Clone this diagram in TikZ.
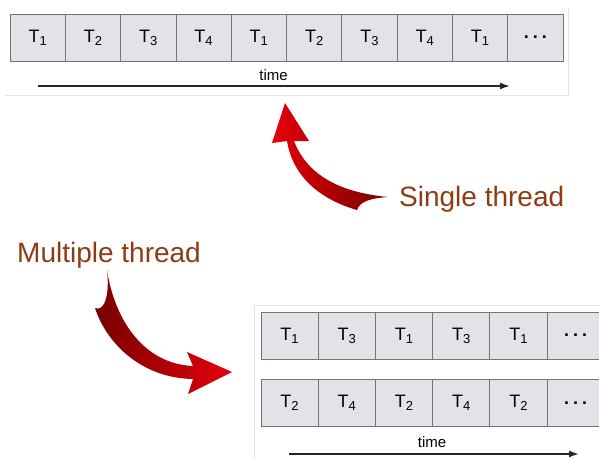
\documentclass[tikz,border=0pt]{standalone}
\usepackage{fontspec}
\setmainfont{Liberation Sans}
\usepackage{xcolor}
\definecolor{cellgray}{RGB}{226, 227, 232}
\definecolor{edgegray}{RGB}{115, 115, 115}
\definecolor{framegray}{RGB}{228, 228, 228}
\definecolor{labelbrown}{RGB}{140, 60, 20}
\definecolor{arrowred}{RGB}{230, 0, 12}
\definecolor{arrowdark}{RGB}{118, 0, 0}
\usepackage{tikz}
\usetikzlibrary{arrows.meta, positioning}

\newcommand{\tsub}[1]{T\raisebox{-3pt}{\fontsize{13}{15}\selectfont #1}}

\begin{document}
\begin{tikzpicture}[x=1pt, y=-1pt, node distance=0pt,
        cell/.style={rectangle, draw=edgegray, fill=cellgray, line width=0.8pt, minimum width=55.3pt, minimum height=47pt, inner sep=0pt, outer sep=0pt, font=\fontsize{18}{20}\selectfont},
        widecell/.style={cell, minimum width=57.2pt},
        timelabel/.style={font=\fontsize{15}{17}\selectfont, inner sep=0pt, anchor=base},
        threadlabel/.style={font=\fontsize{28}{32}\selectfont, text=labelbrown, inner sep=0pt, anchor=base west},
        frame/.style={draw=framegray, line width=0.8pt},
        bigarrow/.style={draw=none},
        line/.style={draw=black!85, -{Latex[length=10pt, width=7pt]}, line width=1.6pt}]

        \useasboundingbox (0,0) rectangle (599,459);
        \clip (0,0) rectangle (599,459);

        % screenshot edges
        \draw [frame] (5,95) -- (568,95) -- (568,8);
        \draw [frame] (254,459) -- (254,305) -- (599,305);

        % single thread row
        \node [cell] (s1) at (37.65,37.5) {\tsub{1}};
        \node [cell, right=of s1] (s2) {\tsub{2}};
        \node [cell, right=of s2] (s3) {\tsub{3}};
        \node [cell, right=of s3] (s4) {\tsub{4}};
        \node [cell, right=of s4] (s5) {\tsub{1}};
        \node [cell, right=of s5] (s6) {\tsub{2}};
        \node [cell, right=of s6] (s7) {\tsub{3}};
        \node [cell, right=of s7] (s8) {\tsub{4}};
        \node [cell, right=of s8] (s9) {\tsub{1}};
        \node [cell, right=of s9] (s10) {\textbf{.\hspace{4pt}.\hspace{4pt}.}};

        \node [timelabel] (stime) at (273.5,80.5) {time};
        \coordinate (sstart) at (38,86);
        \coordinate (send) at (510,86);
        \path [line] (sstart) -- (send);

        % multiple thread rows
        \node [widecell] (a1) at (289.6,335.5) {\tsub{1}};
        \node [widecell, right=of a1] (a2) {\tsub{3}};
        \node [widecell, right=of a2] (a3) {\tsub{1}};
        \node [widecell, right=of a3] (a4) {\tsub{3}};
        \node [widecell, right=of a4] (a5) {\tsub{1}};
        \node [widecell, right=of a5] (a6) {\textbf{.\hspace{4pt}.\hspace{4pt}.}};

        \node [widecell] (b1) at (289.6,403) {\tsub{2}};
        \node [widecell, right=of b1] (b2) {\tsub{4}};
        \node [widecell, right=of b2] (b3) {\tsub{2}};
        \node [widecell, right=of b3] (b4) {\tsub{4}};
        \node [widecell, right=of b4] (b5) {\tsub{2}};
        \node [widecell, right=of b5] (b6) {\textbf{.\hspace{4pt}.\hspace{4pt}.}};

        \node [timelabel] (mtime) at (432,447) {time};
        \coordinate (mstart) at (289,454);
        \coordinate (mend) at (579,454);
        \path [line] (mstart) -- (mend);

        % labels
        \node [threadlabel] (single) at (399,206.5) {Single thread};
        \node [threadlabel] (multi) at (17,262) {Multiple thread};

        % curved arrows
        \shade [bigarrow, left color=arrowred, right color=arrowdark]
            (285,103) -- (309,141) -- (294,141)
            .. controls (306,172) and (335,192) .. (388,197)
            .. controls (372,198) and (360,201) .. (357,210)
            .. controls (322,200) and (293,178) .. (287,141)
            -- (272,143) -- cycle;
        \shade [bigarrow, left color=arrowdark, right color=arrowred]
            (107,270)
            .. controls (115,322) and (145,364) .. (193,366)
            -- (187,352) -- (232,372) -- (188,394) -- (193,379)
            .. controls (140,378) and (106,342) .. (95,308)
            .. controls (104,312) and (110,296) .. (107,270) -- cycle;
    \end{tikzpicture}
\end{document}
